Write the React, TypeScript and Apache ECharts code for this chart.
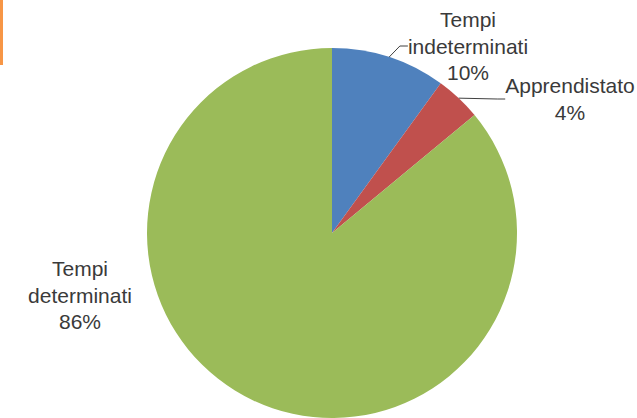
import React, { useEffect, useRef } from "react";
import * as echarts from "echarts";

const categories = ["Tempi indeterminati", "Apprendistato", "Tempi determinati"];
const values = [10, 4, 86];
const colors = ["#4F81BD", "#C0504D", "#9BBB59"];
const showLeader = [true, true, false];
const labelCenters = [
  [468, 46],
  [570, 99],
  [80, 295],
];

export default function App() {
  const ref = useRef<HTMLDivElement>(null);
  useEffect(() => {
    const chart = echarts.init(ref.current!, null, { renderer: "svg" });
    chart.setOption({
      animation: false,
      backgroundColor: "#ffffff",
      graphic: [
        { type: "rect", left: 0, top: 0, shape: { width: 3, height: 65 }, style: { fill: "#F79646" } },
      ],
      series: [
        {
          type: "pie",
          center: [332, 233],
          radius: 185,
          startAngle: 90,
          clockwise: true,
          data: categories.map((name, i) => ({
            name,
            value: values[i],
            itemStyle: { color: colors[i] },
            labelLine: { show: showLeader[i] },
          })),
          label: {
            show: true,
            position: "outside",
            formatter: (p: any) => p.name.replace(" ", "\n") + "\n" + Math.round(p.percent) + "%",
            fontFamily: "Liberation Sans",
            fontSize: 21,
            lineHeight: 26.5,
            color: "#3a3a3a",
            align: "center",
          },
          labelLine: {
            show: true,
            length: 6,
            length2: 8,
            lineStyle: { color: "#404040", width: 1 },
          },
          labelLayout: (params: any) => {
            const c = labelCenters[params.dataIndex];
            return { x: c[0], y: c[1], align: "center", verticalAlign: "middle" };
          },
          emphasis: { disabled: true },
        },
      ],
    });
    return () => chart.dispose();
  }, []);
  return (
    <div
      ref={ref}
      style={{ position: "fixed", left: 0, top: 0, width: 637, height: 418 }}
    />
  );
}
